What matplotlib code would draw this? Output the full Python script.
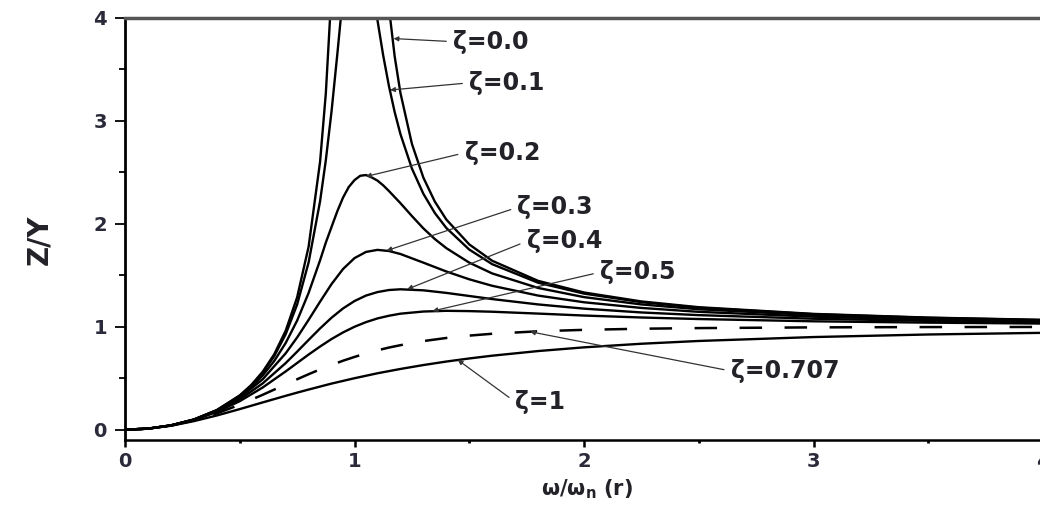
import numpy as np
import matplotlib
matplotlib.use("Agg")
import matplotlib.pyplot as plt
from matplotlib.ticker import MultipleLocator

nan = float("nan")

# frequency ratio r, dense around resonance for the lightly damped curves
r_fine = [0, 0.1, 0.2, 0.3, 0.4, 0.5, 0.55, 0.6, 0.65, 0.7, 0.75, 0.8, 0.85, 0.875, 0.9,
          0.925, 0.95, 0.975, 1.0, 1.025, 1.05, 1.075, 1.1, 1.125, 1.15, 1.175, 1.2, 1.25,
          1.3, 1.35, 1.4, 1.5, 1.6, 1.8, 2.0, 2.25, 2.5, 3.0, 3.5, 4.0]
r_coarse = [0, 0.1, 0.2, 0.3, 0.4, 0.5, 0.6, 0.7, 0.75, 0.8, 0.85, 0.9, 0.95, 1.0, 1.05,
            1.1, 1.15, 1.2, 1.3, 1.4, 1.5, 1.6, 1.8, 2.0, 2.25, 2.5, 3.0, 3.5, 4.0]

# Z/Y
zy_00 = [0, 0.010, 0.042, 0.099, 0.190, 0.333, 0.434, 0.563, 0.732, 0.961, 1.286, 1.778,
         2.604, 3.267, 4.263, 5.926, 9.256, 19.0, nan, 20.75, 10.76, 7.426, 5.762, 4.765,
         4.101, 3.627, 3.273, 2.778, 2.449, 2.216, 2.042, 1.800, 1.641, 1.446, 1.333,
         1.246, 1.190, 1.125, 1.089, 1.067]
zy_01 = [0, 0.010, 0.042, 0.099, 0.190, 0.330, 0.428, 0.553, 0.714, 0.927, 1.216, 1.625,
         2.220, 2.618, 3.095, 3.646, 4.226, 4.726, 5.000, 4.976, 4.718, 4.354, 3.979, 3.636,
         3.339, 3.086, 2.873, 2.538, 2.292, 2.105, 1.960, 1.750, 1.608, 1.428, 1.322,
         1.239, 1.185, 1.122, 1.087, 1.065]
zy_02 = [0, 0.010, 0.042, 0.098, 0.187, 0.322, 0.414, 0.527, 0.667, 0.842, 1.060, 1.329,
         1.646, 1.818, 1.970, 2.122, 2.255, 2.358, 2.425, 2.467, 2.474, 2.451, 2.420, 2.374,
         2.319, 2.260, 2.201, 2.076, 1.956, 1.852, 1.764, 1.623, 1.518, 1.377, 1.288,
         1.217, 1.170, 1.113, 1.081, 1.061]
zy_03 = [0, 0.010, 0.041, 0.097, 0.183, 0.310, 0.490, 0.742, 0.896, 1.067, 1.244, 1.415,
         1.561, 1.667, 1.727, 1.747, 1.736, 1.707, 1.623, 1.537, 1.461, 1.398, 1.303,
         1.238, 1.183, 1.145, 1.098, 1.070, 1.053]
zy_04 = [0, 0.010, 0.041, 0.096, 0.178, 0.294, 0.450, 0.647, 0.758, 0.872, 0.984, 1.088,
         1.178, 1.250, 1.303, 1.337, 1.357, 1.364, 1.354, 1.329, 1.299, 1.269, 1.217,
         1.176, 1.139, 1.113, 1.078, 1.057, 1.043]
zy_05 = [0, 0.010, 0.041, 0.094, 0.172, 0.277, 0.410, 0.566, 0.648, 0.730, 0.808, 0.881,
         0.945, 1.000, 1.045, 1.081, 1.107, 1.127, 1.148, 1.155, 1.152, 1.146, 1.128,
         1.109, 1.090, 1.075, 1.053, 1.040, 1.031]
zy_0707 = [0, 0.010, 0.040, 0.090, 0.158, 0.243, 0.339, 0.440, 0.490, 0.539, 0.586, 0.629,
           0.670, 0.707, 0.741, 0.771, 0.798, 0.821, 0.861, 0.891, 0.914, 0.932, 0.956,
           0.970, 0.981, 0.987, 0.994, 0.997, 0.998]
zy_10 = [0, 0.010, 0.038, 0.083, 0.138, 0.200, 0.265, 0.329, 0.360, 0.390, 0.419, 0.448,
         0.474, 0.500, 0.524, 0.548, 0.569, 0.590, 0.628, 0.662, 0.692, 0.719, 0.764,
         0.800, 0.835, 0.862, 0.900, 0.925, 0.941]

# curve labels: text, point on the curve, text position (left, middle)
labels = ["ζ=0.0", "ζ=0.1", "ζ=0.2", "ζ=0.3", "ζ=0.4", "ζ=0.5", "ζ=0.707", "ζ=1"]
label_pts = [(1.17, 3.80), (1.155, 3.30), (1.05, 2.46), (1.14, 1.74), (1.23, 1.365),
             (1.34, 1.153), (1.765, 0.952), (1.45, 0.678)]
label_txt = [(1.43, 3.77), (1.50, 3.37), (1.48, 2.69), (1.71, 2.16), (1.75, 1.83),
             (2.07, 1.53), (2.64, 0.57), (1.70, 0.27)]

fig = plt.figure(figsize=(10.4, 5.08), dpi=100)
ax = fig.add_axes([0.1202, 0.1339, 0.8827, 0.8307])

lw = 1.7
ax.plot(r_fine, zy_00, color="black", lw=lw)
ax.plot(r_fine, zy_01, color="black", lw=lw)
ax.plot(r_fine, zy_02, color="black", lw=lw)
ax.plot(r_coarse, zy_03, color="black", lw=lw)
ax.plot(r_coarse, zy_04, color="black", lw=lw)
ax.plot(r_coarse, zy_05, color="black", lw=lw)
ax.plot(r_coarse, zy_0707, color="black", lw=1.8, dashes=(9, 9))
ax.plot(r_coarse, zy_10, color="black", lw=lw)

for txt, pt, pos in zip(labels, label_pts, label_txt):
    ax.annotate(txt, xy=pt, xytext=pos, fontsize=17, fontweight="bold", color="#222228",
                ha="left", va="center",
                arrowprops=dict(arrowstyle="-|>", color="#333333", lw=0.9,
                                mutation_scale=7, shrinkA=3, shrinkB=0,
                                relpos=(0, 0.5)))

ax.set_xlim(0, 4)
ax.set_ylim(-0.1, 4)
ax.set_xticks([0, 1, 2, 3, 4])
ax.set_yticks([0, 1, 2, 3, 4])
ax.xaxis.set_minor_locator(MultipleLocator(0.5))
ax.yaxis.set_minor_locator(MultipleLocator(0.5))

ax.spines["right"].set_visible(False)
ax.spines["top"].set_color("#555555")
ax.spines["top"].set_linewidth(2.5)
ax.spines["left"].set_linewidth(2.0)
ax.spines["bottom"].set_linewidth(1.8)

ax.tick_params(axis="y", which="major", direction="out", length=7, width=1.3, pad=6)
ax.tick_params(axis="y", which="minor", direction="out", length=4, width=1.3)
ax.tick_params(axis="x", which="major", direction="out", length=5, width=1.8, pad=4)
ax.tick_params(axis="x", which="minor", direction="out", length=2, width=2)
for lab in ax.get_xticklabels() + ax.get_yticklabels():
    lab.set_fontsize(14)
    lab.set_fontweight("bold")
    lab.set_color("#2a2a3a")

ax.set_ylabel("Z/Y", fontsize=20, fontweight="bold", color="#222228")
ax.yaxis.set_label_coords(-0.078, 0.474)
ax.set_xlabel(r"ω/ω$_{\mathbf{n}}$ (r)", fontsize=15, fontweight="bold", color="#222228")
ax.xaxis.set_label_coords(0.503, -0.088)

fig.savefig("out.png", dpi=100)
